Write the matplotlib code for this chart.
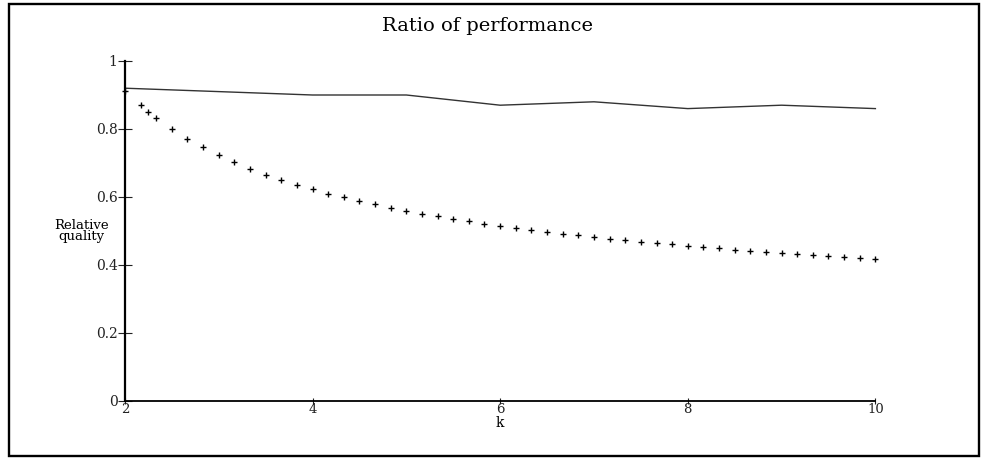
import matplotlib
matplotlib.use("Agg")
import matplotlib.pyplot as plt
from matplotlib.patches import Rectangle

# solid line: measured quality per k
k_solid = [2, 3, 4, 5, 6, 7, 8, 9, 10]
q_solid = [0.92, 0.91, 0.90, 0.90, 0.87, 0.88, 0.86, 0.87, 0.86]

# point series (+ markers)
k_pts = [2.0, 2.167, 2.25, 2.333, 2.5, 2.667, 2.833, 3.0, 3.167, 3.333,
         3.5, 3.667, 3.833, 4.0, 4.167, 4.333, 4.5, 4.667, 4.833, 5.0,
         5.167, 5.333, 5.5, 5.667, 5.833, 6.0, 6.167, 6.333, 6.5, 6.667,
         6.833, 7.0, 7.167, 7.333, 7.5, 7.667, 7.833, 8.0, 8.167, 8.333,
         8.5, 8.667, 8.833, 9.0, 9.167, 9.333, 9.5, 9.667, 9.833, 10.0]
q_pts = [0.913, 0.871, 0.851, 0.833, 0.799, 0.771, 0.748, 0.723, 0.703, 0.683,
         0.665, 0.651, 0.636, 0.623, 0.610, 0.599, 0.587, 0.578, 0.568, 0.559,
         0.551, 0.543, 0.535, 0.528, 0.521, 0.516, 0.509, 0.503, 0.497, 0.491,
         0.487, 0.481, 0.476, 0.473, 0.468, 0.464, 0.461, 0.457, 0.453, 0.449,
         0.445, 0.442, 0.438, 0.435, 0.432, 0.429, 0.426, 0.424, 0.421, 0.418]

x_ticks = [2, 4, 6, 8, 10]
y_ticks = [0, 0.2, 0.4, 0.6, 0.8, 1]
y_ticklabels = ['0', '0.2', '0.4', '0.6', '0.8', '1']

plt.rcParams['font.family'] = ['DejaVu Serif']

W, H = 984, 459
fig = plt.figure(figsize=(W / 100, H / 100), dpi=100)
ax = fig.add_axes([124.9 / W, 1 - 401 / H, (875.4 - 124.9) / W, (401 - 61) / H])

ax.plot(k_solid, q_solid, color='#333333', linewidth=1.0, clip_on=False)
ax.plot(k_pts, q_pts, linestyle='none', marker='+', color='black',
        markersize=4.5, markeredgewidth=1.0, clip_on=False)

ax.set_xlim(2, 10)
ax.set_ylim(0, 1)
ax.spines['top'].set_visible(False)
ax.spines['right'].set_visible(False)
ax.spines['left'].set_linewidth(1.6)
ax.spines['bottom'].set_linewidth(1.3)

ax.set_xticks(x_ticks)
ax.set_yticks(y_ticks)
ax.set_yticklabels(y_ticklabels)
ax.tick_params(axis='y', direction='inout', length=10.5, width=0.8,
               pad=0, labelsize=10, colors='#222222')
ax.tick_params(axis='x', direction='inout', length=4.5, width=0.8,
               pad=-1, labelsize=9.5, colors='#222222')

ax.set_xlabel('k', fontsize=10, labelpad=0)
ax.text(-0.058, 0.5, 'Relative\nquality', transform=ax.transAxes,
        fontsize=9.5, ha='center', va='center', linespacing=0.8)

fig.text(488 / W, 1 - 26 / H, 'Ratio of performance', fontsize=14,
         ha='center', va='center')

# outer frame
fig.patches.append(Rectangle((9 / W, 1 - 456 / H), (979 - 9) / W, (456 - 4) / H,
                             transform=fig.transFigure, fill=False,
                             edgecolor='black', linewidth=1.7))

fig.savefig('out.png', dpi=100)
